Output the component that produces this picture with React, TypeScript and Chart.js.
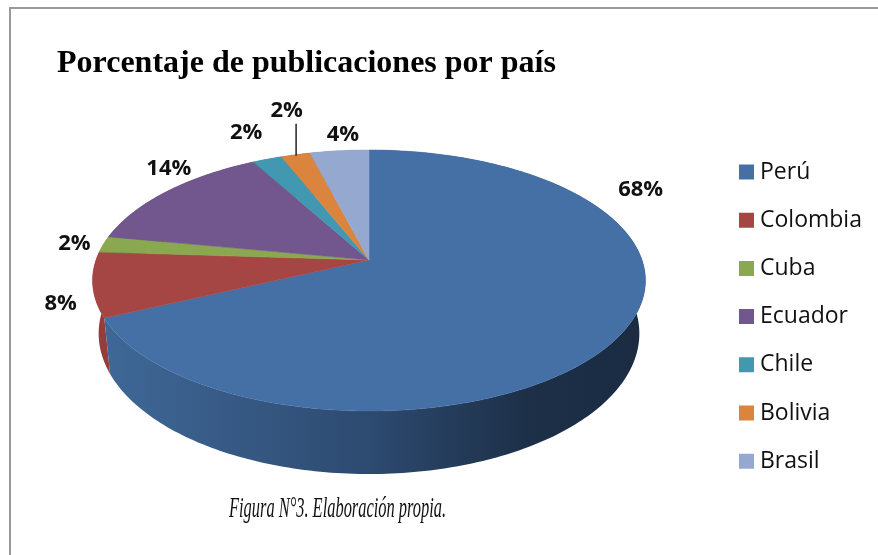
import React, { useEffect, useRef } from "react";
import { Chart, registerables } from "chart.js";

Chart.register(...registerables);

const categories = ["Perú", "Colombia", "Cuba", "Ecuador", "Chile", "Bolivia", "Brasil"];
const shares = [68, 8, 2, 14, 2, 2, 4];
const sliceColors = ["#4470A6", "#A54644", "#8AA84F", "#72578F", "#4298B0", "#DA843E", "#95A9D0"];
const wallColors = ["#2D4A70", "#953D3B", "#667D39", "#54406A", "#30707F", "#A1612C", "#6E7D9A"];
const labelOffsets = [[20, -145], [-32, 19], [-29, -1], [2, -23], [-21, -26], [-9, -44], [3.5, -16]];
const titleText = "Porcentaje de publicaciones por país";
const captionText = "Figura N°3. Elaboración propia.";

// Perspective of the tilted disc
const RADIUS = 127.3;
const TOP = { sx: 273 / RADIUS, sy: 1, k: 0.157, dy: 0 };
const BOTTOM = { sx: 267 / RADIUS, sy: 137 / RADIUS, k: 0.157, dy: 51.5 };

type Disc = typeof TOP;
const project = (el: any, a: number, d: Disc) => {
  const w = 1 - d.k * Math.sin(a);
  return {
    x: el.x + (d.sx * el.outerRadius * Math.cos(a)) / w,
    y: el.y + d.dy + (d.sy * el.outerRadius * Math.sin(a)) / w,
  };
};

const traceArc = (ctx: CanvasRenderingContext2D, el: any, a0: number, a1: number, d: Disc) => {
  const n = Math.max(4, Math.ceil((Math.abs(a1 - a0) / (2 * Math.PI)) * 360));
  for (let i = 0; i <= n; i++) {
    const p = project(el, a0 + ((a1 - a0) * i) / n, d);
    ctx.lineTo(p.x, p.y);
  }
};

const pie3d = {
  id: "pie3d",
  afterLayout(chart: any) {
    // the pie's centre and the legend block keep their own places, whatever the boxes' sizes are
    chart.chartArea = { left: 0, right: 738, top: 0, bottom: 520, width: 738, height: 520 };
    const lg = chart.legend;
    const pad = lg.options.labels.padding;
    lg.left = 744.5 - pad;
    lg.right = 878;
    lg.top = 160.5 - pad;
    lg.bottom = 500;
  },
  beforeDraw(chart: any) {
    const { ctx } = chart;
    ctx.save();
    ctx.fillStyle = "#FFFFFF";
    ctx.fillRect(0, 0, chart.width, chart.height);
    ctx.fillStyle = "#9A9A9A";
    ctx.fillRect(9, 7, chart.width - 9, 2);
    ctx.fillRect(9, 7, 2, chart.height - 7);
    ctx.restore();
  },
  beforeDatasetDraw() {
    return false;
  },
  afterDatasetsDraw(chart: any) {
    const { ctx } = chart;
    const arcs = chart.getDatasetMeta(0).data;
    ctx.save();
    // walls, back slices first, the big front slice last
    for (let i = arcs.length - 1; i >= 0; i--) {
      const el = arcs[i];
      ctx.beginPath();
      traceArc(ctx, el, el.startAngle, el.endAngle, TOP);
      traceArc(ctx, el, el.endAngle, el.startAngle, BOTTOM);
      ctx.closePath();
      if (i === 0) {
        const g = ctx.createLinearGradient(105, 0, 645, 0);
        g.addColorStop(0, "#3F6897");
        g.addColorStop(0.49, "#2D4A70");
        g.addColorStop(0.78, "#1D3048");
        g.addColorStop(1, "#1A2B42");
        ctx.fillStyle = g;
      } else {
        ctx.fillStyle = wallColors[i];
      }
      ctx.fill();
    }
    // top faces
    arcs.forEach((el: any, i: number) => {
      ctx.beginPath();
      ctx.moveTo(el.x, el.y);
      traceArc(ctx, el, el.startAngle, el.endAngle, TOP);
      ctx.closePath();
      ctx.fillStyle = sliceColors[i];
      ctx.strokeStyle = sliceColors[i];
      ctx.lineWidth = 0.5;
      ctx.fill();
      ctx.stroke();
    });
    // value labels
    ctx.fillStyle = "#111111";
    ctx.font = 'bold 22px "Open Sans"';
    ctx.textAlign = "center";
    ctx.textBaseline = "middle";
    arcs.forEach((el: any, i: number) => {
      const rim = project(el, (el.startAngle + el.endAngle) / 2, TOP);
      ctx.fillText(`${shares[i]}%`, rim.x + labelOffsets[i][0], rim.y + labelOffsets[i][1]);
      if (categories[i] === "Bolivia") {
        ctx.strokeStyle = "#222222";
        ctx.lineWidth = 1.5;
        ctx.beginPath();
        ctx.moveTo(rim.x + 0.5, rim.y + 1);
        ctx.lineTo(rim.x + 0.5, rim.y - 31);
        ctx.stroke();
      }
    });
    // caption, in the reference's condensed italic
    ctx.save();
    ctx.translate(229, 517);
    ctx.scale(0.566, 1);
    ctx.font = 'italic 29px "Liberation Serif"';
    ctx.textAlign = "left";
    ctx.textBaseline = "alphabetic";
    ctx.fillStyle = "#111111";
    ctx.fillText(captionText, 0, 0);
    ctx.restore();
    ctx.restore();
  },
};

export default function App() {
  const ref = useRef<HTMLCanvasElement | null>(null);
  useEffect(() => {
    if (!ref.current) return;
    const chart = new Chart(ref.current, {
      type: "pie",
      data: {
        labels: categories,
        datasets: [{ data: shares, backgroundColor: sliceColors, borderWidth: 0 }],
      },
      options: {
        responsive: false,
        animation: false,
        radius: RADIUS,
        layout: { padding: { left: 57 } },
        plugins: {
          tooltip: { enabled: false },
          title: {
            display: true,
            text: titleText,
            align: "start",
            color: "#000000",
            font: { family: '"Liberation Serif"', size: 32, weight: "bold" },
            padding: { top: 45, bottom: 0 },
          },
          legend: {
            display: true,
            position: "right",
            align: "start",
            labels: {
              usePointStyle: true,
              pointStyle: "rect",
              boxWidth: 4,
              boxHeight: 15,
              padding: 25.2,
              color: "#111111",
              font: { family: '"Open Sans"', size: 23 },
            },
          },
        },
      },
      plugins: [pie3d],
    } as any);
    return () => chart.destroy();
  }, []);
  return (
    <canvas
      ref={ref}
      width={878}
      height={555}
      style={{ position: "fixed", left: 0, top: 0, display: "block" }}
    />
  );
}
